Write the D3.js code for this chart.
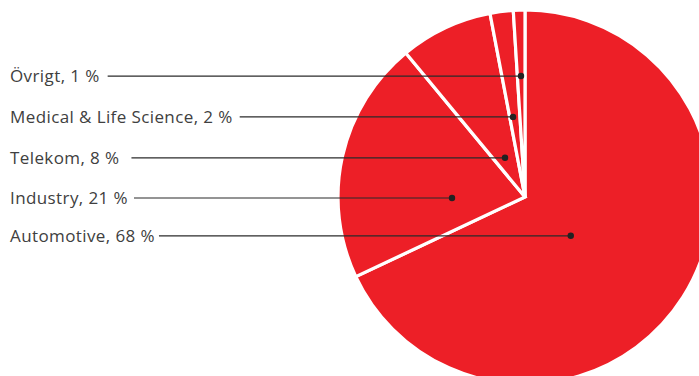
<!DOCTYPE html>
<html><head><meta charset="utf-8">
<script src="https://cdn.jsdelivr.net/npm/d3@7"></script>
<style>html,body{margin:0;padding:0;background:#fff;overflow:hidden}</style>
</head><body>
<svg id="chart" width="699" height="376"></svg>
<script>
const categories = ["Automotive", "Industry", "Telekom", "Medical & Life Science", "Övrigt"];
const values = [68, 21, 8, 2, 1];
const labels = ["Automotive, 68 %", "Industry,  21 %", "Telekom, 8 %", "Medical & Life Science, 2 %", "Övrigt, 1 %"];
// leader dot placement (polar, degrees clockwise from top, px from centre)
const dotAngle = [130.3, 269.2, 333, 351.5, 358.1];
const dotRadius = [60, 73, 44, 81, 121];
const lineGap = [4, 6, 12, 7, 8];

const svg = d3.select("#chart");
const cx = 525, cy = 197, R = 187;
const g = svg.append("g").attr("transform", `translate(${cx},${cy})`);

const pie = d3.pie().sort(null).value(d => d)(values);
const arc = d3.arc().innerRadius(0).outerRadius(R);
g.selectAll("path").data(pie).join("path")
  .attr("d", arc)
  .attr("fill", "#ED1F27")
  .attr("stroke", "#fff")
  .attr("stroke-width", 3.2)
  .attr("stroke-linejoin", "miter");

const font = "'Open Sans', sans-serif";
categories.forEach((c, i) => {
  const a = dotAngle[i] * Math.PI / 180;
  const dx = cx + dotRadius[i] * Math.sin(a);
  const dy = cy - dotRadius[i] * Math.cos(a);
  const t = svg.append("text")
    .attr("x", 10).attr("y", dy + 6)
    .attr("font-family", font).attr("font-size", 17)
    .attr("letter-spacing", 0.4)
    .attr("fill", "#404040")
    .text(labels[i]);
  const w = t.node().getComputedTextLength();
  svg.append("line")
    .attr("x1", 10 + w + lineGap[i]).attr("x2", dx)
    .attr("y1", dy).attr("y2", dy)
    .attr("stroke", "#2b2b2b").attr("stroke-width", 1.2);
  svg.append("circle").attr("cx", dx).attr("cy", dy).attr("r", 3.2).attr("fill", "#222");
});
</script>
</body></html>
